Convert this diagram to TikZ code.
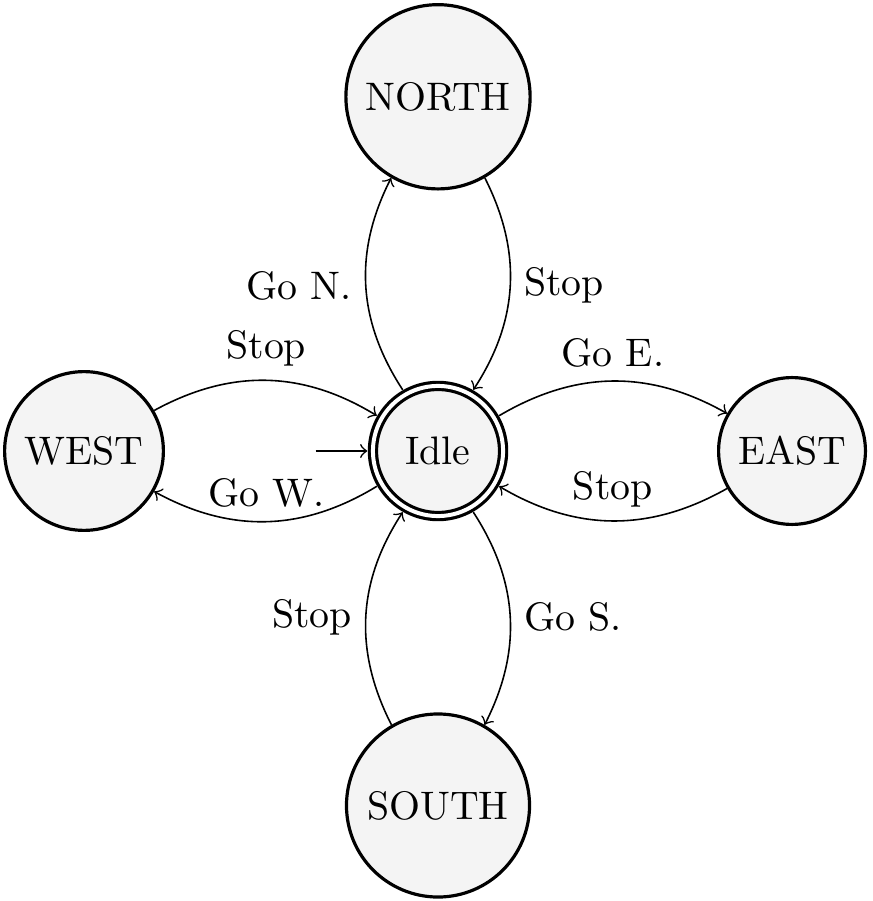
\documentclass[tikz,border=0pt]{standalone}
\definecolor{statefill}{RGB}{244,244,244}
\tikzset{
  st/.style={circle, draw, thick, fill=statefill, inner sep=0pt},
  acc/.style={double, double distance=1pt, outer sep=1.4pt},
  tr/.style={->, bend left=30},
}
\begin{document}
\begin{tikzpicture}[x=0.2513pt, y=-0.2513pt]
\useasboundingbox (0,0) rectangle (872,901);
\node[st, minimum size=46.3pt] (north) at (438,96.8) {NORTH};
\node[st, minimum size=46.0pt] (south) at (438,805.5) {SOUTH};
\node[st, minimum size=39.9pt] (west) at (84,451) {WEST};
\node[st, minimum size=36.9pt] (east) at (792,451) {EAST};
\node[st, acc, minimum size=32.7pt] (idle) at (438,451) {Idle};
\coordinate (init) at ([xshift=-13pt]idle.west);
\draw[->] (init) -- (idle);
\draw[tr] (idle) to node[left] {Go N.} (north);
\draw[tr] (north) to node[right] {Stop} (idle);
\draw[tr] (west) to node[above] {Stop} (idle);
\draw[tr] (idle) to node[above] {Go W.} (west);
\draw[tr] (idle) to node[above] {Go E.} (east);
\draw[tr] (east) to node[above] {Stop} (idle);
\draw[tr] (idle) to node[right] {Go S.} (south);
\draw[tr] (south) to node[left] {Stop} (idle);
\end{tikzpicture}
\end{document}
